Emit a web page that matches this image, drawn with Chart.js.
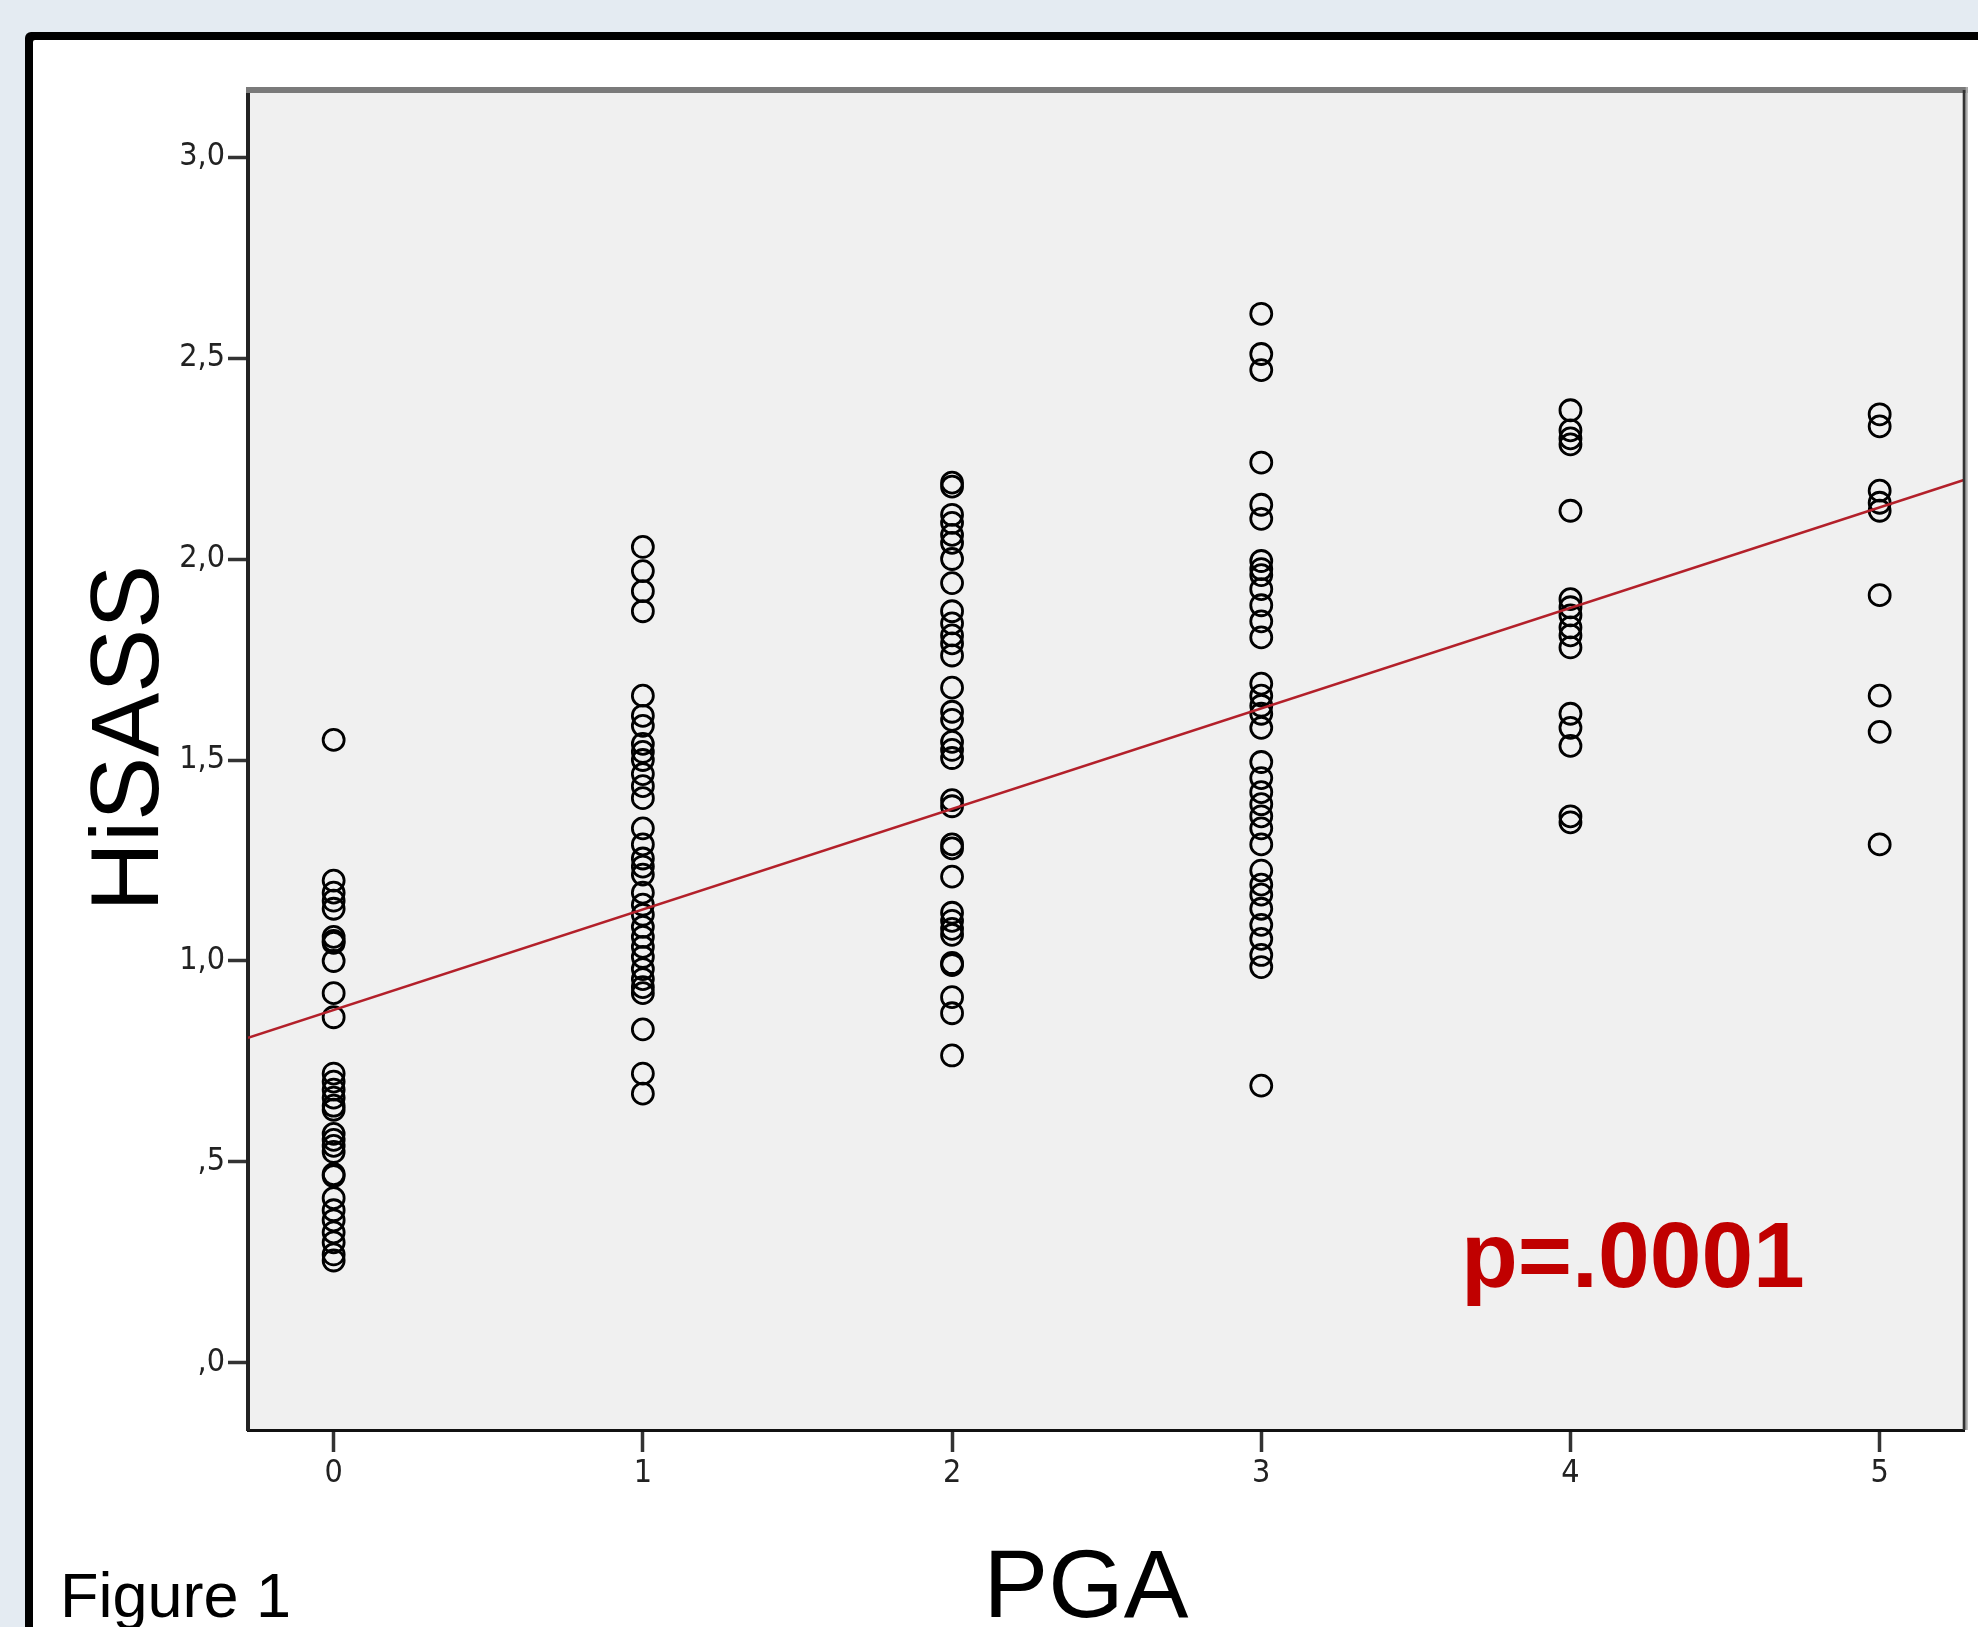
<!DOCTYPE html>
<html>
<head>
<meta charset="utf-8">
<script src="https://cdn.jsdelivr.net/npm/chart.js@4.4.1/dist/chart.umd.min.js"></script>
<style>
  html, body { margin: 0; padding: 0; background: #e4ebf2; }
  canvas { display: block; }
</style>
</head>
<body>
<canvas id="scatterChart" width="1978" height="1627" style="width:1978px;height:1627px"></canvas>
<script>
// PGA levels and HiSASS values
const pgaLevels = [0, 1, 2, 3, 4, 5];
const hisassPga0 = [1.55, 1.20, 1.17, 1.15, 1.13, 1.06, 1.05, 1.045, 1.00, 0.92, 0.86,
    0.72, 0.70, 0.68, 0.66, 0.64, 0.63, 0.57, 0.555, 0.54, 0.525, 0.47, 0.465,
    0.41, 0.38, 0.355, 0.325, 0.30, 0.27, 0.255];
const hisassPga1 = [2.03, 1.97, 1.92, 1.87, 1.66, 1.61, 1.585, 1.54, 1.52, 1.50, 1.465,
    1.435, 1.405, 1.33, 1.29, 1.255, 1.235, 1.215, 1.17, 1.14, 1.115, 1.085, 1.06,
    1.035, 1.01, 0.98, 0.955, 0.935, 0.92, 0.83, 0.72, 0.67];
const hisassPga2 = [2.19, 2.18, 2.11, 2.09, 2.06, 2.04, 2.00, 1.94, 1.87, 1.84, 1.81,
    1.79, 1.76, 1.68, 1.62, 1.60, 1.545, 1.525, 1.505, 1.40, 1.385, 1.29, 1.28,
    1.21, 1.12, 1.10, 1.08, 1.065, 0.995, 0.99, 0.91, 0.87, 0.765];
const hisassPga3 = [2.61, 2.51, 2.47, 2.24, 2.135, 2.10, 1.995, 1.975, 1.96, 1.925,
    1.885, 1.845, 1.805, 1.69, 1.66, 1.635, 1.615, 1.58, 1.495, 1.455, 1.42, 1.39,
    1.36, 1.33, 1.29, 1.225, 1.19, 1.165, 1.13, 1.09, 1.055, 1.015, 0.985, 0.69];
const hisassPga4 = [2.37, 2.32, 2.30, 2.285, 2.12, 1.90, 1.88, 1.86, 1.83, 1.81, 1.78,
    1.615, 1.58, 1.535, 1.36, 1.345];
const hisassPga5 = [2.36, 2.33, 2.17, 2.14, 2.12, 1.91, 1.66, 1.57, 1.29];

// regression line end points, at the edges of the plot
const fitX = [-0.277, 5.275];
const fitY = [0.809, 2.197];

const xTicks = [0, 1, 2, 3, 4, 5];
const yTicks = [0, 0.5, 1, 1.5, 2, 2.5, 3];

const columns = [hisassPga0, hisassPga1, hisassPga2, hisassPga3, hisassPga4, hisassPga5];
const points = [];
columns.forEach((col, i) => {
    col.forEach(v => points.push({ x: pgaLevels[i], y: v }));
});
const fitLine = fitX.map((x, i) => ({ x: x, y: fitY[i] }));

// SPSS style tick labels: ",0"  ",5"  "1,0"
function spssLabel(v) {
    const s = v.toFixed(1).replace('.', ',');
    return s.startsWith('0') ? s.slice(1) : s;
}

const FONT = '"Liberation Sans", Arial, sans-serif';
const TICK_FONT = '"DejaVu Sans Condensed", "DejaVu Sans", sans-serif';

const framePlugin = {
    id: 'frame',
    beforeDraw(chart) {
        const { ctx, chartArea: a } = chart;
        ctx.save();
        ctx.fillStyle = '#e4ebf2';
        ctx.fillRect(0, 0, chart.width, chart.height);
        // white panel with black border
        ctx.fillStyle = '#000';
        ctx.beginPath();
        ctx.roundRect(25, 32, 2200, 1900, 6);
        ctx.fill();
        ctx.fillStyle = '#fff';
        ctx.beginPath();
        ctx.roundRect(33, 40, 2200, 1900, 2);
        ctx.fill();
        // plot background
        ctx.fillStyle = '#f0f0f0';
        ctx.fillRect(a.left, a.top, a.right - a.left, a.bottom - a.top);
        ctx.restore();
    },
    afterDraw(chart) {
        const { ctx, chartArea: a } = chart;
        ctx.save();
        // top and right frame of the plot
        ctx.fillStyle = '#7a7a7a';
        ctx.fillRect(a.left - 2, a.top - 3, a.right - a.left + 5, 6);
        ctx.fillStyle = '#333';
        ctx.fillRect(a.right - 2, a.top, 3, a.bottom - a.top);
        ctx.fillStyle = '#aaa';
        ctx.fillRect(a.right + 1, a.top - 3, 2, a.bottom - a.top + 3);

        ctx.fillStyle = '#000';
        ctx.textBaseline = 'alphabetic';
        // axis titles
        ctx.font = '96px ' + FONT;
        ctx.save();
        ctx.translate(158, 738);
        ctx.rotate(-Math.PI / 2);
        ctx.textAlign = 'center';
        ctx.fillText('HiSASS', 0, 0);
        ctx.restore();

        ctx.font = '97px ' + FONT;
        ctx.textAlign = 'center';
        ctx.fillText('PGA', 1086, 1617);

        ctx.font = '63px ' + FONT;
        ctx.textAlign = 'left';
        ctx.fillText('Figure 1', 60, 1617);

        ctx.font = 'bold 93px ' + FONT;
        ctx.fillStyle = '#c00000';
        ctx.fillText('p=.0001', 1461, 1287);
        ctx.restore();
    }
};

new Chart(document.getElementById('scatterChart'), {
    type: 'scatter',
    data: {
        datasets: [{
            data: fitLine,
            showLine: true,
            borderColor: '#b3202a',
            borderWidth: 2.5,
            pointRadius: 0,
            fill: false
        }, {
            data: points,
            pointStyle: 'circle',
            pointRadius: 10.5,
            pointHoverRadius: 10.5,
            borderWidth: 2.8,
            borderColor: '#000',
            backgroundColor: 'rgba(0,0,0,0)'
        }]
    },
    options: {
        responsive: false,
        animation: false,
        events: [],
        layout: { padding: { top: 90, right: 8, left: 0, bottom: 0 } },
        plugins: {
            legend: { display: false },
            tooltip: { enabled: false }
        },
        scales: {
            x: {
                type: 'linear',
                min: fitX[0],
                max: fitX[1],
                afterBuildTicks: s => { s.ticks = xTicks.map(v => ({ value: v })); },
                afterFit: s => { s.height = 197; },
                grid: { drawOnChartArea: false, tickLength: 22, tickWidth: 3.5, tickColor: '#333' },
                border: { color: '#111', width: 3 },
                ticks: {
                    padding: 2,
                    color: '#222',
                    font: { family: TICK_FONT, size: 32 },
                    callback: v => String(v)
                }
            },
            y: {
                type: 'linear',
                min: -0.1667,
                max: 3.1667,
                afterBuildTicks: s => { s.ticks = yTicks.map(v => ({ value: v })); },
                afterFit: s => { s.width = 248; },
                grid: { drawOnChartArea: false, tickLength: 20, tickWidth: 3.5, tickColor: '#333' },
                border: { color: '#222', width: 4 },
                ticks: {
                    padding: 3,
                    color: '#222',
                    font: { family: TICK_FONT, size: 32 },
                    callback: v => spssLabel(v)
                }
            }
        }
    },
    plugins: [framePlugin]
});
</script>
</body>
</html>
